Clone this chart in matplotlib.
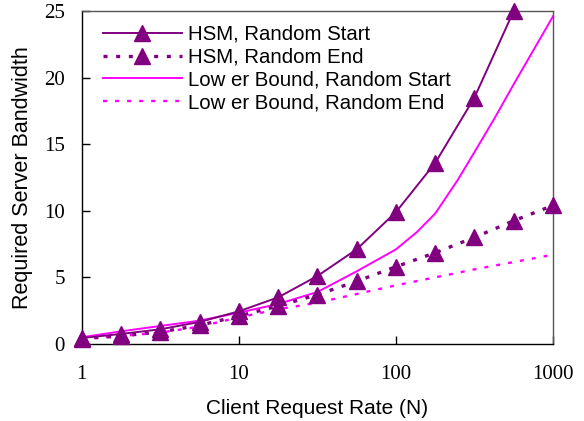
"""Server bandwidth vs client request rate (HSM vs lower bound)."""
import matplotlib
matplotlib.use("Agg")
import matplotlib.pyplot as plt

PURPLE = "#800080"
MAGENTA = "#FF00FF"

# request rates (quarter decades)
n_hsm_start = [1, 1.78, 3.16, 5.62, 10, 17.8, 31.6, 56.2, 100, 178, 316, 562]
bw_hsm_start = [0.45, 0.75, 1.1, 1.65, 2.45, 3.5, 5.1, 7.1, 9.9, 13.6, 18.5, 25.0]

n_hsm_end = [1, 1.78, 3.16, 5.62, 10, 17.8, 31.6, 56.2, 100, 178, 316, 562, 1000]
bw_hsm_end = [0.4, 0.6, 0.9, 1.4, 2.1, 2.85, 3.7, 4.7, 5.8, 6.85, 8.0, 9.25, 10.4]

n_lb_start = [1, 1.78, 3.16, 5.62, 10, 17.8, 31.6, 56.2, 100, 136, 178, 247, 316, 427, 562, 1000]
bw_lb_start = [0.5, 0.95, 1.35, 1.75, 2.35, 3.0, 3.9, 5.45, 7.1, 8.4, 9.8, 12.3, 14.4, 17.0, 19.5, 24.6]

n_lb_end = [1, 1.78, 3.16, 5.62, 10, 17.8, 31.6, 56.2, 100, 178, 316, 562, 1000]
bw_lb_end = [0.4, 0.6, 0.85, 1.3, 2.0, 2.6, 3.1, 3.75, 4.4, 5.0, 5.6, 6.15, 6.7]

x_ticks = [1, 10, 100, 1000]
x_ticklabels = ["1", "10", "100", "1000"]
y_ticks = [0, 5, 10, 15, 20, 25]

SANS = "Liberation Sans"
SERIF = "Liberation Serif"

fig = plt.figure(figsize=(5.84, 4.21), dpi=100)
ax = fig.add_axes([0.140, 0.183, 0.807, 0.791])

ax.plot(n_hsm_start, bw_hsm_start, color=PURPLE, lw=1.4, marker="^", ms=11.5,
        clip_on=False, label="HSM, Random Start", zorder=4)
ax.plot(n_hsm_end, bw_hsm_end, color=PURPLE, lw=2.4, ls=(0, (1.2, 2.6)), marker="^", ms=11.5,
        clip_on=False, label="HSM, Random End", zorder=4)
ax.plot(n_lb_start, bw_lb_start, color=MAGENTA, lw=1.4, label="Low er Bound, Random Start", zorder=3)
ax.plot(n_lb_end, bw_lb_end, color=MAGENTA, lw=1.7, ls=(0, (1.7, 3.4)),
        label="Low er Bound, Random End", zorder=3)

ax.set_xscale("log")
ax.set_xlim(1, 1000)
ax.set_ylim(0, 25)
ax.set_xticks(x_ticks)
ax.set_xticklabels(x_ticklabels)
ax.minorticks_off()
ax.set_yticks(y_ticks)
ax.tick_params(direction="in", length=6, width=1, colors="black")
ax.tick_params(axis="x", pad=15)
ax.tick_params(axis="y", pad=12)
for lbl in ax.get_xticklabels() + ax.get_yticklabels():
    lbl.set_fontfamily(SERIF)
    lbl.set_fontsize(15)
for side in ["left", "bottom", "right", "top"]:
    ax.spines[side].set_linewidth(1.0)
ax.spines["right"].set_color("#555555")
ax.spines["top"].set_color("#555555")

ax.set_xlabel("Client Request Rate (N)", fontfamily=SANS, fontsize=15, labelpad=11)
ax.set_ylabel("Required Server Bandwidth", fontfamily=SANS, fontsize=15.5, labelpad=8)

ax.legend(loc="upper left", bbox_to_anchor=(103 / 584, 1 - 25 / 421),
          bbox_transform=fig.transFigure, frameon=False, borderpad=0, borderaxespad=0,
          handlelength=3.85, handletextpad=0.33, labelspacing=0.18,
          prop={"family": SANS, "size": 14.7})

fig.savefig("out.png", dpi=100)
